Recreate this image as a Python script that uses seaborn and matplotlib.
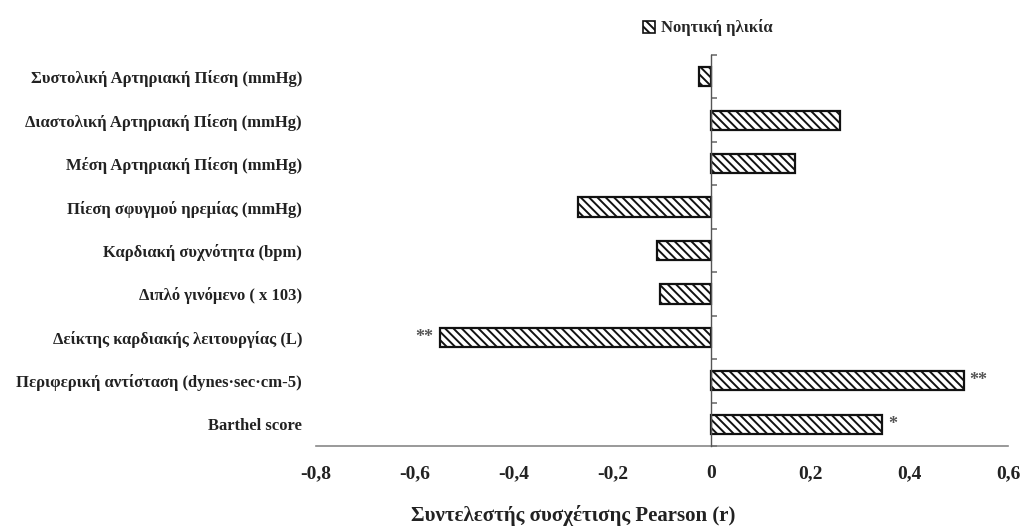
import matplotlib
matplotlib.use("Agg")
import matplotlib.pyplot as plt
import matplotlib.patches as mpatches
import seaborn as sns
import pandas as pd
import numpy as np

# Correlation of mental age with haemodynamic / functional indices
categories = [
    "Συστολική Αρτηριακή Πίεση (mmHg)",
    "Διαστολική Αρτηριακή Πίεση (mmHg)",
    "Μέση Αρτηριακή Πίεση (mmHg)",
    "Πίεση σφυγμού ηρεμίας (mmHg)",
    "Καρδιακή συχνότητα (bpm)",
    "Διπλό γινόμενο ( x 103)",
    "Δείκτης καρδιακής λειτουργίας (L)",
    "Περιφερική αντίσταση (dynes·sec·cm-5)",
    "Barthel score",
]
r_values = [-0.025, 0.26, 0.17, -0.27, -0.11, -0.105, -0.55, 0.51, 0.345]
significance = ["", "", "", "", "", "", "**", "**", "*"]
series_name = "Νοητική ηλικία"
x_ticks = [-0.8, -0.6, -0.4, -0.2, 0.0, 0.2, 0.4, 0.6]
x_label = "Συντελεστής συσχέτισης Pearson (r)"

sns.set_theme(style="white")
plt.rcParams["font.family"] = ["Liberation Serif", "DejaVu Serif"]
plt.rcParams["font.weight"] = "bold"
plt.rcParams["hatch.linewidth"] = 1.4
plt.rcParams["hatch.color"] = "#333333"

df = pd.DataFrame({"var": categories, "r": r_values})

fig = plt.figure(figsize=(10.23, 5.30), dpi=100)
ax = fig.add_axes([316 / 1023, 1 - 446 / 530, 692 / 1023, 391 / 530])

sns.barplot(data=df, x="r", y="var", orient="h", color="white",
            edgecolor="#111111", linewidth=1.6, width=0.44,
            hatch="\\\\\\\\", ax=ax)

ax.set_xlim(-0.8, 0.6)
ax.set_ylim(len(categories) - 0.5, -0.5)
ax.set_xticks(x_ticks)
ax.set_xticklabels([("%g" % t).replace(".", ",") for t in x_ticks],
                   fontsize=14, fontweight="bold", color="#222222")
ax.tick_params(axis="x", direction="out", length=4, width=1, color="#888888", pad=10)
ax.tick_params(axis="y", length=0, pad=10)
for lbl in ax.get_yticklabels():
    lbl.set_fontsize(12)
    lbl.set_fontweight("bold")
    lbl.set_color("#222222")
ax.set_ylabel("")
ax.set_xlabel(x_label, fontsize=15, fontweight="bold", color="#222222")
ax.xaxis.set_label_coords(0.371, -0.152)

for s in ["top", "right", "left"]:
    ax.spines[s].set_visible(False)
ax.spines["bottom"].set_color("#888888")
ax.spines["bottom"].set_linewidth(1.2)

# category axis crossing at r = 0, with ticks between categories
ax2 = ax.twinx()
ax2.set_ylim(ax.get_ylim())
for s in ["top", "left", "bottom"]:
    ax2.spines[s].set_visible(False)
ax2.spines["right"].set_position(("data", 0))
ax2.spines["right"].set_color("#555555")
ax2.spines["right"].set_linewidth(1.0)
ax2.set_yticks(np.arange(len(categories) + 1) - 0.5)
ax2.set_yticklabels([])
ax2.tick_params(axis="y", direction="out", length=4, color="#777777")
ax2.grid(False)

# significance marks beside the bars
for i, (v, s) in enumerate(zip(r_values, significance)):
    if not s:
        continue
    off = 0.012
    ax.text(v + off if v > 0 else v - off, i, s,
            ha="left" if v > 0 else "right", va="center",
            fontsize=13, color="#555555", fontweight="bold")

# legend
handle = mpatches.Patch(facecolor="white", edgecolor="#111111",
                        hatch="\\\\\\\\", linewidth=1.2, label=series_name)
fig.legend(handles=[handle], loc="center left",
           bbox_to_anchor=(643 / 1023, 1 - 28 / 530), frameon=False,
           prop={"family": "Liberation Serif", "weight": "bold", "size": 12},
           handlelength=0.7, handleheight=0.7, handletextpad=0.4,
           borderpad=0, borderaxespad=0)

fig.savefig("out.png", dpi=100, facecolor="white")
